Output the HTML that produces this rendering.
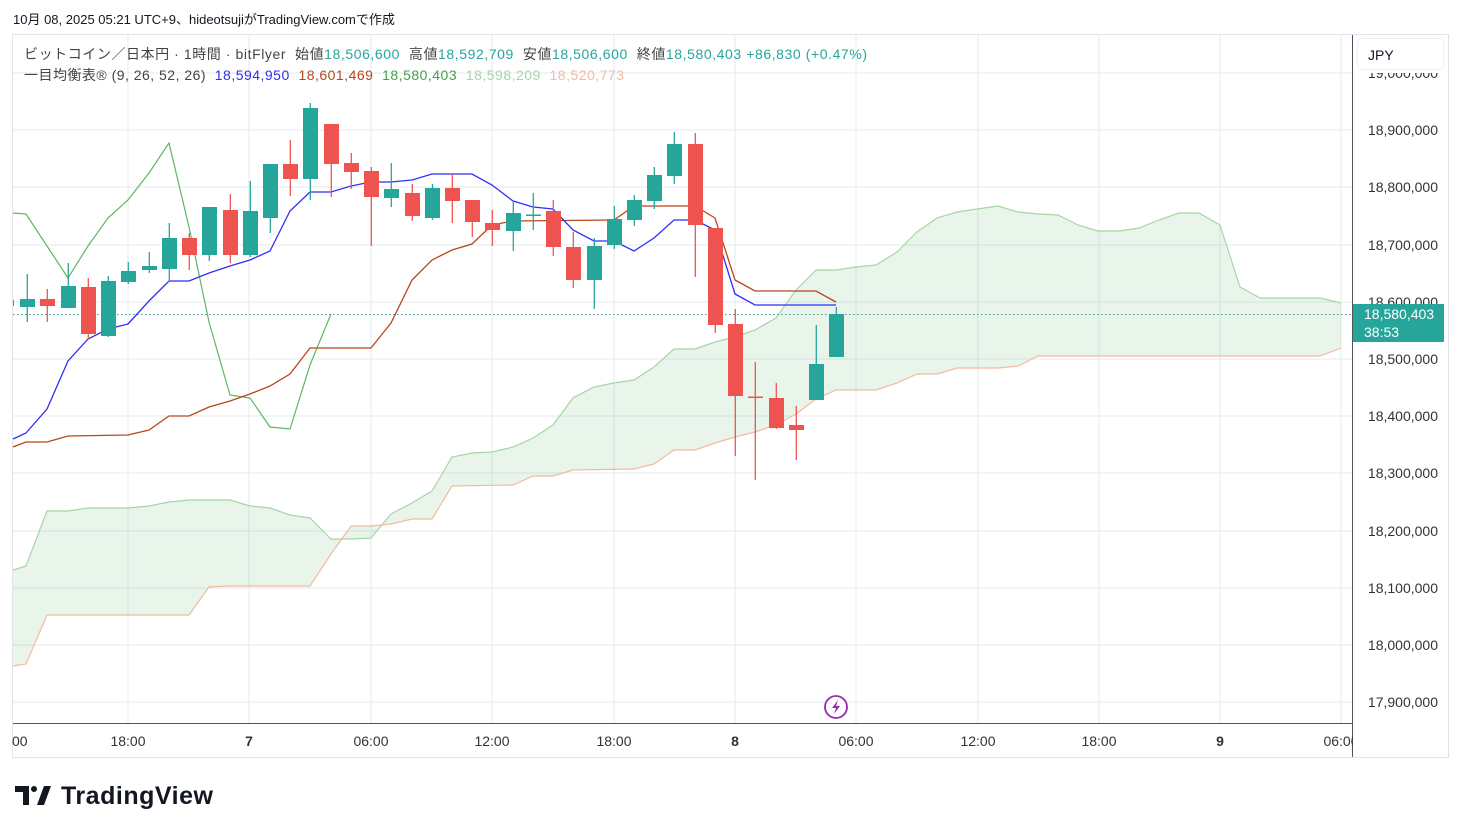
<!DOCTYPE html>
<html><head><meta charset="utf-8"><style>
body{margin:0;width:1462px;height:833px;background:#fff;overflow:hidden;font-family:"Liberation Sans","Noto Sans CJK JP",sans-serif;}
</style></head><body>
<svg width="1462" height="833" xmlns="http://www.w3.org/2000/svg" style="position:absolute;left:0;top:0;font-family:'Liberation Sans','Noto Sans CJK JP',sans-serif">
<defs><clipPath id="c"><rect x="13" y="35" width="1339" height="688"/></clipPath></defs>
<rect x="12.5" y="34.5" width="1436" height="723" fill="none" stroke="#e0e3eb"/>
<g stroke="#e3ebf2" stroke-width="1">
<line x1="13" x2="1352" y1="73" y2="73"/><line x1="13" x2="1352" y1="130" y2="130"/><line x1="13" x2="1352" y1="187" y2="187"/><line x1="13" x2="1352" y1="245" y2="245"/><line x1="13" x2="1352" y1="302" y2="302"/><line x1="13" x2="1352" y1="359" y2="359"/><line x1="13" x2="1352" y1="416" y2="416"/><line x1="13" x2="1352" y1="473" y2="473"/><line x1="13" x2="1352" y1="531" y2="531"/><line x1="13" x2="1352" y1="588" y2="588"/><line x1="13" x2="1352" y1="645" y2="645"/><line x1="13" x2="1352" y1="702" y2="702"/>
<line y1="35" y2="723" x1="128" x2="128"/><line y1="35" y2="723" x1="249" x2="249"/><line y1="35" y2="723" x1="371" x2="371"/><line y1="35" y2="723" x1="492" x2="492"/><line y1="35" y2="723" x1="614" x2="614"/><line y1="35" y2="723" x1="735" x2="735"/><line y1="35" y2="723" x1="856" x2="856"/><line y1="35" y2="723" x1="978" x2="978"/><line y1="35" y2="723" x1="1099" x2="1099"/><line y1="35" y2="723" x1="1220" x2="1220"/><line y1="35" y2="723" x1="1341" x2="1341"/>
</g>
<g clip-path="url(#c)">
<polygon fill="rgba(76,175,80,0.12)" points="13,570 26,566 47,511 68,511 88,508 128,508 149,506 169,502 189,500 230,500 250,506 270,508 290,515 310,518 331,539 351,539 371,538 391,514 412,503 432,491 452,457 472,453 492,452 513,447 533,438 553,425 573,398 594,387 614,383 634,380 654,367 674,349 695,349 715,342 735,337 755,330 776,318 796,290 816,270 836,270 856,267 876,265 897,252 917,232 937,218 957,212 977,209 998,206 1018,212 1038,214 1058,215 1078,225 1098,231 1119,231 1139,228 1159,220 1179,213 1199,213 1220,225 1240,287 1260,298 1320,298 1341,303 1341,348 1320,356 1038,356 1018,366 998,368 957,368 937,374 917,374 897,383 876,390 836,390 816,399 796,414 776,425 755,432 735,437 715,443 695,450 674,450 654,464 634,469 573,470 553,476 533,476 513,485 452,486 432,519 412,519 391,524 371,526 351,526 331,554 310,586 230,586 209,587 189,615 47,615 26,664 13,666"/>
<polyline fill="none" stroke="#a5d6a7" stroke-width="1.2" points="13,570 26,566 47,511 68,511 88,508 128,508 149,506 169,502 189,500 230,500 250,506 270,508 290,515 310,518 331,539 351,539 371,538 391,514 412,503 432,491 452,457 472,453 492,452 513,447 533,438 553,425 573,398 594,387 614,383 634,380 654,367 674,349 695,349 715,342 735,337 755,330 776,318 796,290 816,270 836,270 856,267 876,265 897,252 917,232 937,218 957,212 977,209 998,206 1018,212 1038,214 1058,215 1078,225 1098,231 1119,231 1139,228 1159,220 1179,213 1199,213 1220,225 1240,287 1260,298 1320,298 1341,303"/>
<polyline fill="none" stroke="#f4b9a0" stroke-width="1.2" points="13,666 26,664 47,615 189,615 209,587 230,586 310,586 331,554 351,526 371,526 391,524 412,519 432,519 452,486 513,485 533,476 553,476 573,470 634,469 654,464 674,450 695,450 715,443 735,437 755,432 776,425 796,414 816,399 836,390 876,390 897,383 917,374 937,374 957,368 998,368 1018,366 1038,356 1320,356 1341,348"/>
<line x1="13" x2="1352" y1="314.5" y2="314.5" stroke="#26a69a" stroke-dasharray="1.5,2.5"/>
<polyline fill="none" stroke="#4caf50" stroke-opacity="0.9" stroke-width="1.2" points="13,213 26,214 47,246 68,278 88,246 108,218 128,200 149,173 169,143 189,227 209,322 230,395 250,398 270,427 290,429 310,365 331,314"/>
<polyline fill="none" stroke="#b8461b" stroke-width="1.3" points="13,447 26,442 47,442 68,436 128,435 149,430 169,416 189,416 209,407 230,401 250,394 270,386 290,374 310,348 371,348 391,323 412,280 432,260 452,250 472,244 492,225 513,221 614,220 634,206 695,206 715,218 735,280 755,291 816,291 836,302"/>
<polyline fill="none" stroke="#2f2ff5" stroke-width="1.3" points="13,439 26,433 47,409 68,361 88,339 108,329 128,324 149,301 169,281 189,281 209,273 230,266 250,260 270,251 290,211 310,192 331,192 351,186 371,182 391,182 412,180 432,174 472,174 492,185 513,201 533,207 553,209 573,230 594,241 614,241 634,251 654,238 674,220 695,220 715,230 735,294 755,305 836,305"/>
<g stroke-width="1.3">
<g fill="#ef5350" stroke="#ef5350"><line x1="7" x2="7" y1="296" y2="310"/><rect x="0" y="300" width="14" height="6" stroke="none"/></g>
<g fill="#26a69a" stroke="#26a69a">
<line x1="27.3" x2="27.3" y1="274" y2="322"/><rect x="20" y="299" width="15" height="8" stroke="none"/>
<line x1="68.3" x2="68.3" y1="263" y2="308"/><rect x="61" y="286" width="15" height="22" stroke="none"/>
<line x1="108.3" x2="108.3" y1="276" y2="337"/><rect x="101" y="281" width="15" height="55" stroke="none"/>
<line x1="128.3" x2="128.3" y1="262" y2="284"/><rect x="121" y="271" width="15" height="11" stroke="none"/>
<line x1="149.3" x2="149.3" y1="252" y2="273"/><rect x="142" y="266" width="15" height="4" stroke="none"/>
<line x1="169.3" x2="169.3" y1="223" y2="282"/><rect x="162" y="238" width="15" height="31" stroke="none"/>
<line x1="209.3" x2="209.3" y1="207" y2="261"/><rect x="202" y="207" width="15" height="48" stroke="none"/>
<line x1="250.3" x2="250.3" y1="181" y2="257"/><rect x="243" y="211" width="15" height="44" stroke="none"/>
<line x1="270.3" x2="270.3" y1="164" y2="233"/><rect x="263" y="164" width="15" height="54" stroke="none"/>
<line x1="310.3" x2="310.3" y1="103" y2="200"/><rect x="303" y="108" width="15" height="71" stroke="none"/>
<line x1="391.3" x2="391.3" y1="163" y2="207"/><rect x="384" y="189" width="15" height="9" stroke="none"/>
<line x1="432.5" x2="432.5" y1="184" y2="220"/><rect x="425" y="188" width="15" height="30" stroke="none"/>
<line x1="513.3" x2="513.3" y1="202" y2="251"/><rect x="506" y="213" width="15" height="18" stroke="none"/>
<line x1="533.3" x2="533.3" y1="193" y2="230"/><rect x="526" y="214.5" width="15" height="1.5" stroke="none"/>
<line x1="594.3" x2="594.3" y1="238" y2="309"/><rect x="587" y="246" width="15" height="34" stroke="none"/>
<line x1="614.3" x2="614.3" y1="206" y2="249"/><rect x="607" y="219" width="15" height="26" stroke="none"/>
<line x1="634.3" x2="634.3" y1="195" y2="226"/><rect x="627" y="200" width="15" height="20" stroke="none"/>
<line x1="654.3" x2="654.3" y1="167" y2="209"/><rect x="647" y="175" width="15" height="26" stroke="none"/>
<line x1="674.3" x2="674.3" y1="132" y2="184"/><rect x="667" y="144" width="15" height="32" stroke="none"/>
<line x1="816.3" x2="816.3" y1="325" y2="400"/><rect x="809" y="364" width="15" height="36" stroke="none"/>
<line x1="836.3" x2="836.3" y1="307" y2="357"/><rect x="829" y="314" width="15" height="43" stroke="none"/>
</g>
<g fill="#ef5350" stroke="#ef5350">
<line x1="47.3" x2="47.3" y1="289" y2="322"/><rect x="40" y="299" width="15" height="7" stroke="none"/>
<line x1="88.3" x2="88.3" y1="278" y2="339"/><rect x="81" y="287" width="15" height="47" stroke="none"/>
<line x1="189.3" x2="189.3" y1="233" y2="270"/><rect x="182" y="238" width="15" height="17" stroke="none"/>
<line x1="230.3" x2="230.3" y1="194" y2="263"/><rect x="223" y="210" width="15" height="45" stroke="none"/>
<line x1="290.3" x2="290.3" y1="140" y2="196"/><rect x="283" y="164" width="15" height="15" stroke="none"/>
<line x1="331.3" x2="331.3" y1="124" y2="197"/><rect x="324" y="124" width="15" height="40" stroke="none"/>
<line x1="351.3" x2="351.3" y1="153" y2="189"/><rect x="344" y="163" width="15" height="9" stroke="none"/>
<line x1="371.3" x2="371.3" y1="167" y2="246"/><rect x="364" y="171" width="15" height="26" stroke="none"/>
<line x1="412.3" x2="412.3" y1="184" y2="221"/><rect x="405" y="193" width="15" height="23" stroke="none"/>
<line x1="452.3" x2="452.3" y1="173" y2="223"/><rect x="445" y="188" width="15" height="13" stroke="none"/>
<line x1="472.3" x2="472.3" y1="200" y2="237"/><rect x="465" y="200" width="15" height="22" stroke="none"/>
<line x1="492.3" x2="492.3" y1="210" y2="246"/><rect x="485" y="223" width="15" height="7" stroke="none"/>
<line x1="553.3" x2="553.3" y1="200" y2="256"/><rect x="546" y="211" width="15" height="36" stroke="none"/>
<line x1="573.3" x2="573.3" y1="232" y2="288"/><rect x="566" y="247" width="15" height="33" stroke="none"/>
<line x1="695.3" x2="695.3" y1="133" y2="277"/><rect x="688" y="144" width="15" height="81" stroke="none"/>
<line x1="715.3" x2="715.3" y1="228" y2="333"/><rect x="708" y="228" width="15" height="97" stroke="none"/>
<line x1="735.3" x2="735.3" y1="309" y2="456"/><rect x="728" y="324" width="15" height="72" stroke="none"/>
<line x1="755.3" x2="755.3" y1="362" y2="480"/><rect x="748" y="396.5" width="15" height="1.5" stroke="none"/>
<line x1="776.3" x2="776.3" y1="383" y2="429"/><rect x="769" y="398" width="15" height="30" stroke="none"/>
<line x1="796.3" x2="796.3" y1="406" y2="460"/><rect x="789" y="425" width="15" height="5" stroke="none"/>
</g>
</g>
</g>
<line x1="1352.5" x2="1352.5" y1="35" y2="757" stroke="#50535e"/>
<line x1="13" x2="1352" y1="723.5" y2="723.5" stroke="#50535e"/>
<g font-size="14" fill="#333" text-anchor="end">
<text x="1438" y="78">19,000,000</text><text x="1438" y="135">18,900,000</text><text x="1438" y="192">18,800,000</text><text x="1438" y="250">18,700,000</text><text x="1438" y="307">18,600,000</text><text x="1438" y="364">18,500,000</text><text x="1438" y="421">18,400,000</text><text x="1438" y="478">18,300,000</text><text x="1438" y="536">18,200,000</text><text x="1438" y="593">18,100,000</text><text x="1438" y="650">18,000,000</text><text x="1438" y="707">17,900,000</text>
</g>
<rect x="1353" y="35" width="95" height="38" fill="#fff"/>
<rect x="1357.5" y="38.5" width="86" height="31" rx="4" fill="#fff" stroke="#eef0f3"/>
<text x="1368" y="60" font-size="14" fill="#131722">JPY</text>
<rect x="1353" y="304" width="91" height="38" fill="#26a69a"/>
<text x="1364" y="319" font-size="14" fill="#fff">18,580,403</text>
<text x="1364" y="337" font-size="14" fill="#fff">38:53</text>
<g font-size="14" fill="#333" text-anchor="middle">
<text x="10" y="746">00:00</text><text x="128" y="746">18:00</text><text x="249" y="746" font-weight="bold">7</text><text x="371" y="746">06:00</text><text x="492" y="746">12:00</text><text x="614" y="746">18:00</text><text x="735" y="746" font-weight="bold">8</text><text x="856" y="746">06:00</text><text x="978" y="746">12:00</text><text x="1099" y="746">18:00</text><text x="1220" y="746" font-weight="bold">9</text><text x="1341" y="746">06:00</text>
</g>
<rect x="0" y="725" width="12" height="30" fill="#fff"/>
<rect x="1353" y="725" width="95" height="31" fill="#fff"/>
<circle cx="836" cy="707" r="11" fill="#fff" stroke="#9c27b0" stroke-width="1.8"/>
<path d="M838,700 L832,708 L836,708 L834,714 L840,706 L836,706 Z" fill="#9c27b0"/>
<text x="13" y="24" font-size="13" fill="#131722">10月 08, 2025 05:21 UTC+9、hideotsujiがTradingView.comで作成</text>
<text x="24" y="59" font-size="14" fill="#444" xml:space="preserve" textLength="843" lengthAdjust="spacing">ビットコイン／日本円 · 1時間 · bitFlyer  始値<tspan fill="#26a69a">18,506,600</tspan>  高値<tspan fill="#26a69a">18,592,709</tspan>  安値<tspan fill="#26a69a">18,506,600</tspan>  終値<tspan fill="#26a69a">18,580,403</tspan> <tspan fill="#26a69a">+86,830 (+0.47%)</tspan></text>
<text x="24" y="80" font-size="14" fill="#444" xml:space="preserve" textLength="600" lengthAdjust="spacing">一目均衡表® (9, 26, 52, 26)  <tspan fill="#2f2ff5">18,594,950</tspan>  <tspan fill="#b8461b">18,601,469</tspan>  <tspan fill="#43a047">18,580,403</tspan>  <tspan fill="#a5d6a7">18,598,209</tspan>  <tspan fill="#f4b9a0">18,520,773</tspan></text>
<g fill="#131722">
<path d="M15,786 h14 v19 h-6 v-13 h-8 z"/><circle cx="34" cy="789" r="3"/><path d="M37,805 l7,-19 h7 l-7,19 z"/>
</g>
<text x="61" y="804" font-size="25" font-weight="bold" fill="#131722" textLength="152">TradingView</text>
</svg>
</body></html>
